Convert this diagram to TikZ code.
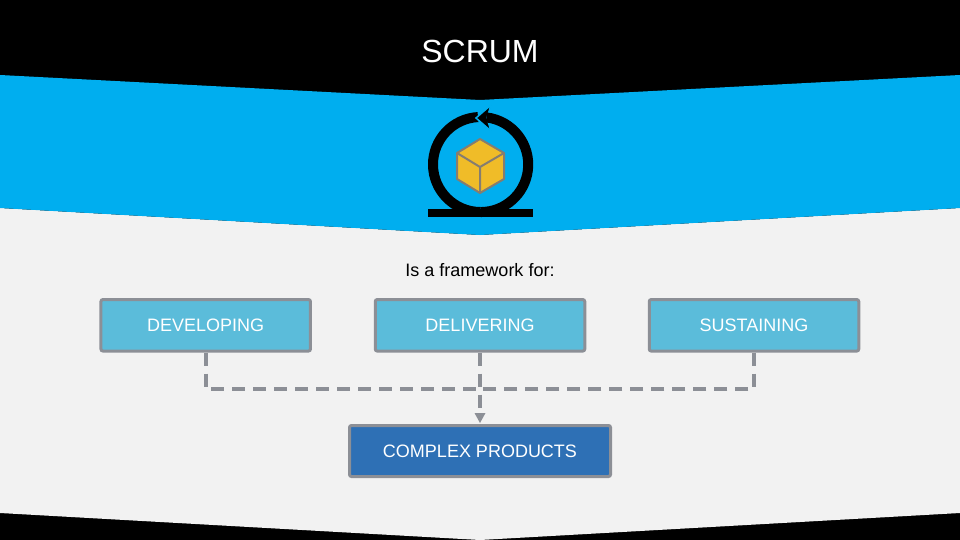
\documentclass[tikz,border=0pt]{standalone}
\usepackage{fontspec}
\setmainfont{Liberation Sans}
\definecolor{bandblue}{HTML}{00AEEF}
\definecolor{pagegray}{HTML}{F2F2F2}
\definecolor{boxblue}{HTML}{5BBCDA}
\definecolor{darkblue}{HTML}{2E70B5}
\definecolor{edgegray}{HTML}{8C8F96}
\definecolor{cubegray}{HTML}{857D70}
\definecolor{cubeyellow}{HTML}{F0BC28}
\tikzset{
	lightbox/.style={draw=edgegray,fill=boxblue,line width=3pt,rounded corners=2pt,minimum width=209.5pt,minimum height=51.5pt,text=white,font=\fontsize{18}{18}\selectfont},
	darkbox/.style={draw=edgegray,fill=darkblue,line width=3pt,rounded corners=2pt,minimum width=261pt,minimum height=51pt,text=white,font=\fontsize{18}{18}\selectfont},
	dashline/.style={draw=edgegray,line width=4pt,dash pattern=on 13pt off 8pt},
}
\begin{document}
\begin{tikzpicture}[x=1pt,y=-1pt]
		\useasboundingbox (0,0) rectangle (960,540);
		% bands
		\fill [black] (0,0) rectangle (960,540);
		\fill [pagegray] (0,208) -- (480,235) -- (960,208) -- (960,513) -- (480,540) -- (0,513) -- cycle;
		\fill [bandblue] (0,75) -- (480,100) -- (960,75) -- (960,208) -- (480,235) -- (0,208) -- cycle;
		\node [text=white,font=\fontsize{32}{32}\selectfont] at (480,51) (title) {SCRUM};
		% icon
		\fill [black] (428,209) rectangle (533,217);
		\draw [black,line width=10pt] (480.5,212) arc [start angle=90,end angle=267,radius=47.5];
		\draw [bandblue,fill=black,line width=1.5pt,line join=miter] (476,118) -- (491,105) -- (487,118) -- (491,131) -- cycle;
		\draw [black,line width=10pt] (486.5,117.4) arc [start angle=-83,end angle=90,radius=47.5];
		\draw [cubegray,fill=cubeyellow,line width=2pt,line join=round] (480,139) -- (504,153) -- (504,179) -- (480,193) -- (457,179) -- (457,153) -- cycle;
		\draw [cubegray,line width=2pt,line join=round] (457,153) -- (480,167) -- (504,153) (480,167) -- (480,193);
		% boxes
		\node [font=\fontsize{18}{18}\selectfont] at (480,270) (intro) {Is a framework for:};
		\node [lightbox] at (205.7,325.3) (developing) {DEVELOPING};
		\node [lightbox] at (480,325.3) (delivering) {DELIVERING};
		\node [lightbox] at (754,325.3) (sustaining) {SUSTAINING};
		\node [darkbox] at (480,451) (complex) {COMPLEX PRODUCTS};
		\coordinate (join) at (480,389);
		% connectors
		\draw [dashline] (developing.south) |- (join);
		\draw [dashline] (sustaining.south) |- (join);
		\draw [dashline] (delivering.south) -- (join) -- ([yshift=11pt]complex.north);
		\fill [edgegray] (complex.north) ++(0,-1) -- ++(-5.5,-10) -- ++(11,0) -- cycle;
\end{tikzpicture}
\end{document}
